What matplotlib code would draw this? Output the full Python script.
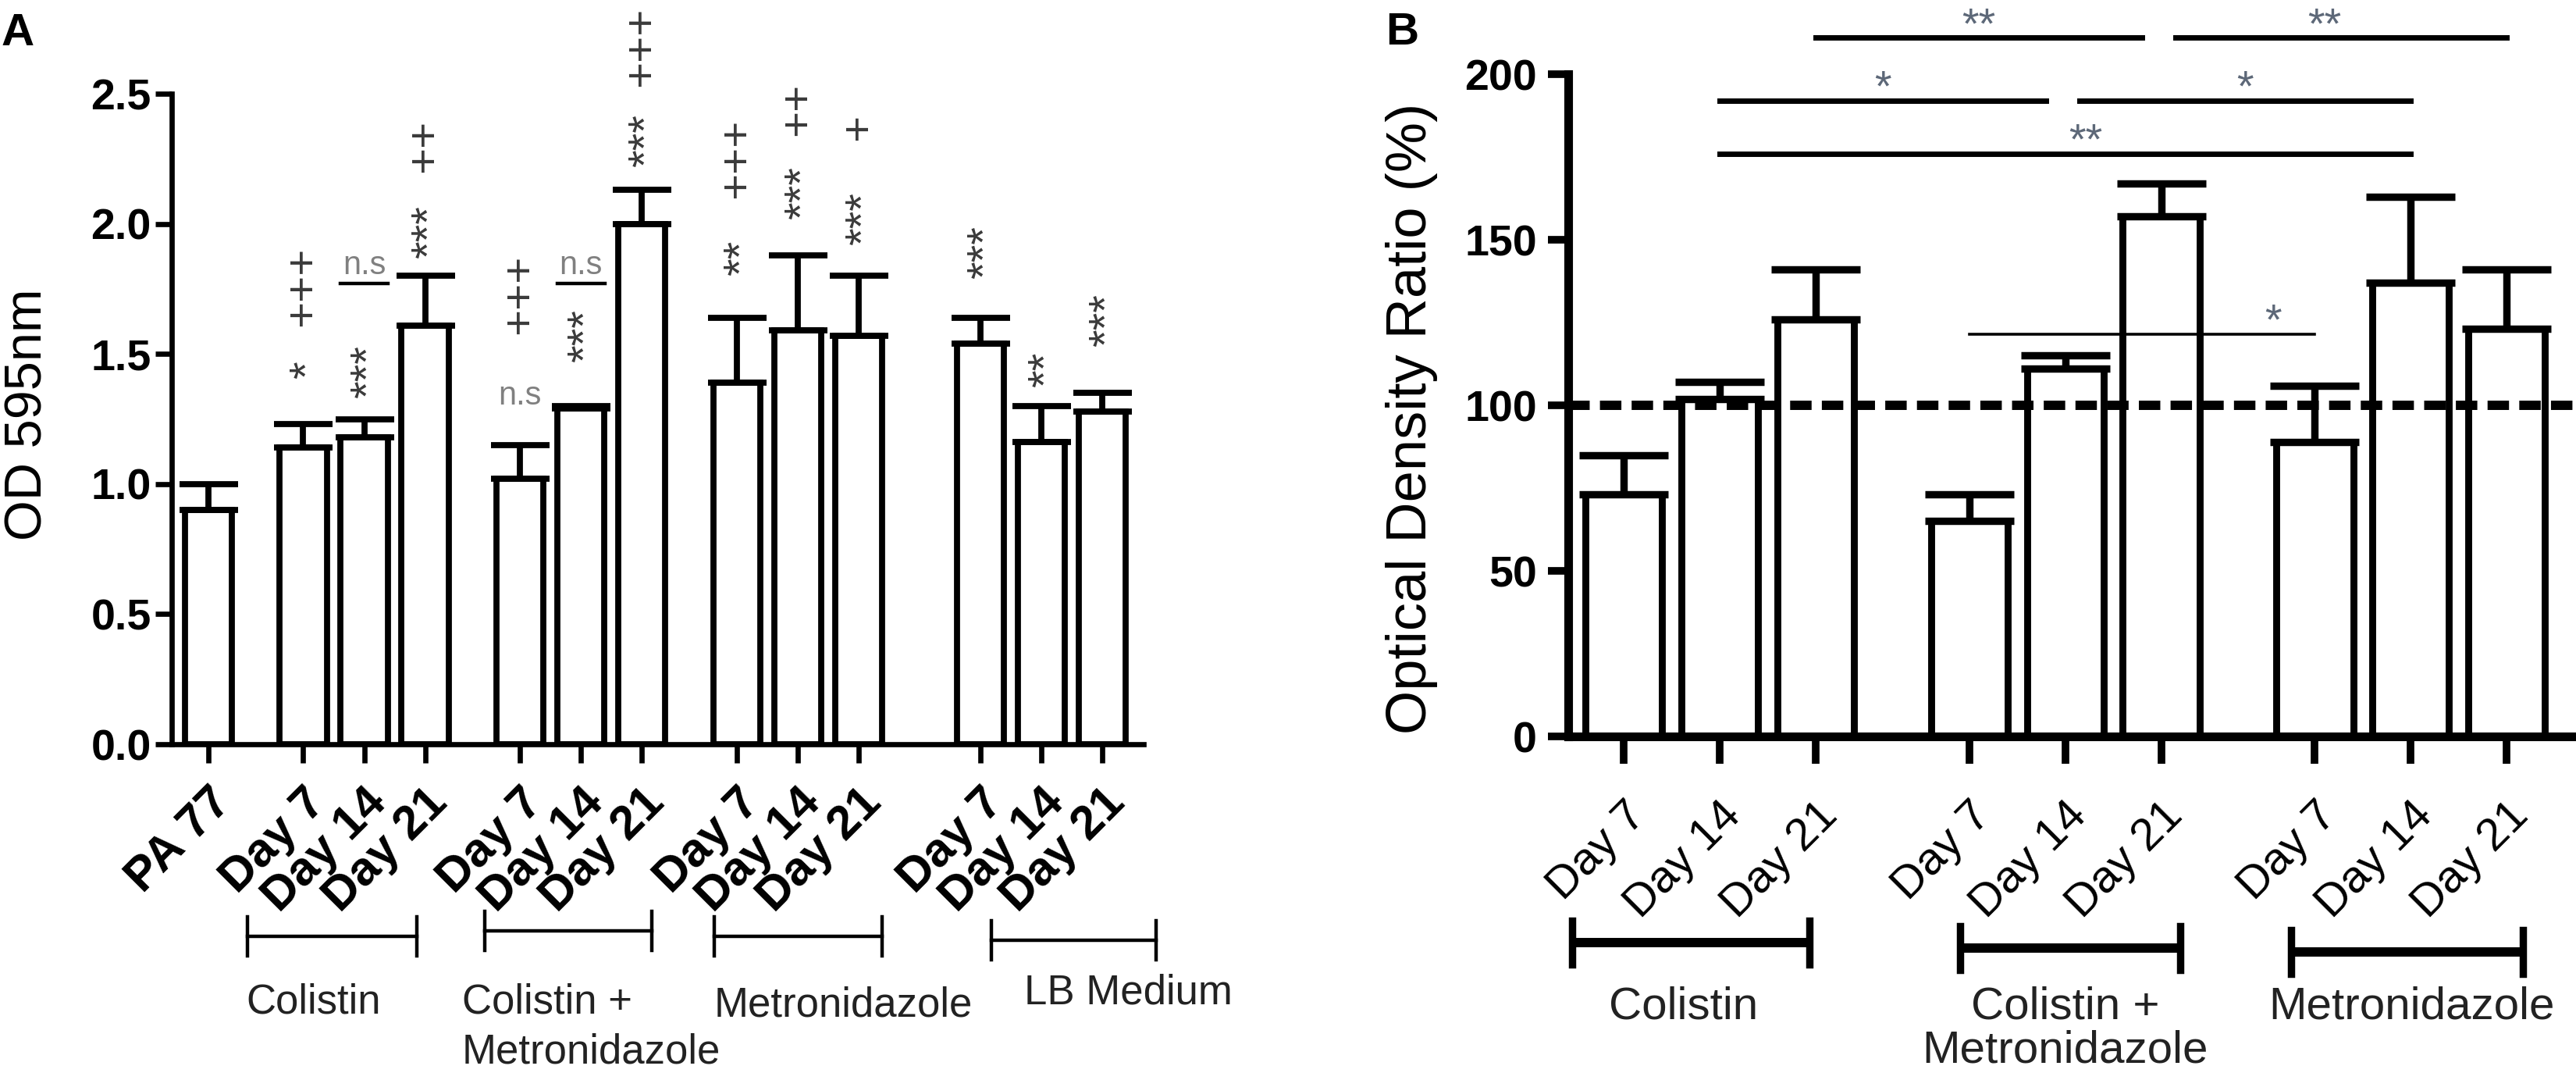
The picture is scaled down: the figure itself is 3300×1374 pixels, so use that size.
import numpy as np
import matplotlib
matplotlib.use("Agg")
import matplotlib.pyplot as plt

plt.rcParams['font.family'] = ['Liberation Sans', 'DejaVu Sans']

# ---- panel A : OD 595nm (mean, upper SEM)
a_labels = ['PA 77', 'Day 7', 'Day 14', 'Day 21', 'Day 7', 'Day 14', 'Day 21',
            'Day 7', 'Day 14', 'Day 21', 'Day 7', 'Day 14', 'Day 21']
a_od = [0.90, 1.14, 1.18, 1.61, 1.02, 1.29, 2.00, 1.39, 1.59, 1.57, 1.54, 1.16, 1.28]
a_err = [0.10, 0.09, 0.07, 0.19, 0.13, 0.01, 0.13, 0.25, 0.29, 0.23, 0.10, 0.14, 0.07]
a_groups = ['Colistin', 'Colistin +\nMetronidazole', 'Metronidazole', 'LB Medium']
a_plus = ['', '+++', '', '++', '+++', '', '+++', '+++', '++', '+', '', '', '']
a_plus_y = [0, 1.76, 0, 2.30, 1.73, 0, 2.68, 2.25, 2.44, 2.37, 0, 0, 0]
a_star = ['', '*', '***', '***', '', '***', '***', '**', '***', '***', '***', '**', '***']
a_star_y = [0, 1.44, 1.43, 1.97, 0, 1.57, 2.32, 1.87, 2.12, 2.02, 1.89, 1.44, 1.63]
a_ns_bar = [2, 5, 4]
a_ns_y = [1.77, 1.77, 1.34]
a_ns_line = [True, True, False]

# ---- panel B : optical density ratio (%)
b_labels = ['Day 7', 'Day 14', 'Day 21'] * 3
b_ratio = [73, 102, 126, 65, 111, 157, 89, 137, 123]
b_err = [12, 5, 15, 8, 4, 10, 17, 26, 18]
b_groups = ['Colistin', 'Colistin +\nMetronidazole', 'Metronidazole']
b_pairs = [(2, 5), (5, 8), (1, 4), (4, 7), (1, 7), (3, 6)]
b_pair_y = [211, 211, 192, 192, 176, 121.5]
b_pair_txt = ['**', '**', '*', '*', '**', '*']

# ---- layout
W, H = 3300, 1374
fig = plt.figure(figsize=(W / 200, H / 200), dpi=200)


def px_axes(l, t, r, b):
    return fig.add_axes([l / W, 1 - b / H, (r - l) / W, (b - t) / H])


def slots(sizes, gaps):
    out, x = [], 0.0
    for k, n in enumerate(sizes):
        if k:
            x = out[-1] + gaps[k - 1]
        out += [x + i for i in range(n)]
    return np.array(out)


xa = slots([1, 3, 3, 3, 3], [1.56, 1.56, 1.56, 2.0])
xb = slots([3, 3, 3], [1.6, 1.6])

gray_sym = '#3a3a3a'
star_col = '#5d6878'

# ================= panel A
axA = px_axes(220, 120, 1465, 953)
axA.bar(xa, a_od, width=0.77, color='white', edgecolor='black', linewidth=2.8, zorder=2)
axA.errorbar(xa, a_od, yerr=[np.zeros(len(a_od)), a_err], fmt='none', ecolor='black',
             elinewidth=2.8, capsize=13.5, capthick=2.8, zorder=3)
axA.set_xlim(-0.60, 15.36)
axA.set_ylim(0, 2.5)
yt = np.arange(0, 2.51, 0.5)
axA.set_yticks(yt, labels=['%.1f' % v for v in yt], fontweight='bold', fontsize=20)
axA.set_xticks(xa, labels=a_labels, rotation=45, ha='right', rotation_mode='anchor',
               fontweight='bold', fontsize=22)
axA.tick_params(axis='x', length=8.6, width=2.4, pad=8)
axA.tick_params(axis='y', length=7.5, width=2.4, pad=2)
for s in ['top', 'right']:
    axA.spines[s].set_visible(False)
for s in ['left', 'bottom']:
    axA.spines[s].set_linewidth(2.4)

for x, s, y in zip(xa, a_plus, a_plus_y):
    if s:
        axA.text(x, y, s, rotation=90, ha='center', va='center', fontsize=21,
                 color=gray_sym, clip_on=False)
for x, s, y in zip(xa, a_star, a_star_y):
    if s:
        axA.text(x + 0.1, y, s, rotation=90, ha='center', va='center', fontsize=21,
                 color=gray_sym, clip_on=False)
for i, y, line in zip(a_ns_bar, a_ns_y, a_ns_line):
    if line:
        axA.plot([xa[i] - 0.39, xa[i] + 0.39], [y, y], color='black', lw=1.6)
        axA.text(xa[i], y + 0.01, 'n.s', ha='center', va='bottom', fontsize=15, color='#808080')
    else:
        axA.text(xa[i], y, 'n.s', ha='center', va='center', fontsize=15, color='#808080')

# group brackets under the axis
trA = axA.get_xaxis_transform()
a_brk = [(0.64, 3.42, -0.295), (4.54, 7.29, -0.287), (8.31, 11.06, -0.295), (12.86, 15.56, -0.301)]
a_txt = [(0.62, -0.367), (4.17, -0.367), (8.31, -0.372), (13.4, -0.352)]
for (x0, x1, yb), (tx, ty), name in zip(a_brk, a_txt, a_groups):
    axA.plot([x0, x1], [yb, yb], color='black', lw=1.6, transform=trA, clip_on=False)
    for xe in (x0, x1):
        axA.plot([xe, xe], [yb - 0.03, yb + 0.03], color='black', lw=1.6, transform=trA,
                 clip_on=False)
    axA.text(tx, ty, name, ha='left', va='top', fontsize=19, color='#222222',
             linespacing=1.35, transform=trA)

# ================= panel B
axB = px_axes(2009, 95, 3296, 943)
axB.bar(xb, b_ratio, width=0.8, color='white', edgecolor='black', linewidth=3.2, zorder=2)
axB.errorbar(xb, b_ratio, yerr=[np.zeros(len(b_ratio)), b_err], fmt='none', ecolor='black',
             elinewidth=3.4, capsize=20.5, capthick=3.4, zorder=3)
axB.axhline(100, color='black', lw=4.3, dashes=(2.3, 1.1), zorder=4)
axB.set_xlim(-0.58, 9.89)
axB.set_ylim(0, 200)
ybt = [0, 50, 100, 150, 200]
axB.set_yticks(ybt, labels=[str(v) for v in ybt], fontweight='bold', fontsize=20)
axB.set_xticks(xb, labels=b_labels, rotation=45, ha='right', rotation_mode='anchor',
               fontsize=21)
axB.tick_params(axis='x', length=12.5, width=3.5, pad=14)
axB.tick_params(axis='y', length=9.4, width=3.5, pad=5)
for s in ['top', 'right']:
    axB.spines[s].set_visible(False)
for s in ['left', 'bottom']:
    axB.spines[s].set_linewidth(4.0)

b_txt_at = [0.5, 0.45, 0.5, 0.5, 0.53, 0.88]
for (i, j), y, s, f in zip(b_pairs, b_pair_y, b_pair_txt, b_txt_at):
    x0, x1 = xb[i], xb[j]
    if any(p[1] == i and yy == y for p, yy in zip(b_pairs, b_pair_y)):
        x0 += 0.15
    if any(p[0] == j and yy == y for p, yy in zip(b_pairs, b_pair_y)):
        x1 -= 0.2
    lw = 1.3 if y < 150 else 2.5
    axB.plot([x0, x1], [y, y], color='black', lw=lw, clip_on=False, zorder=5)
    axB.text(x0 + f * (x1 - x0), y, s, ha='center', va='baseline', fontsize=20,
             color=star_col, clip_on=False)

trB = axB.get_xaxis_transform()
b_brk = [(-0.54, 1.93, -0.311), (3.5, 5.8, -0.320), (6.95, 9.37, -0.325)]
b_txt = [0.62, 4.6, 8.21]
for (x0, x1, yb), tx, name in zip(b_brk, b_txt, b_groups):
    axB.plot([x0, x1], [yb, yb], color='black', lw=4.3, transform=trB, clip_on=False,
             solid_capstyle='butt')
    for xe in (x0, x1):
        axB.plot([xe, xe], [yb - 0.033, yb + 0.033], color='black', lw=3.4, transform=trB,
                 clip_on=False)
    axB.text(tx, -0.377, name, ha='center', va='top', fontsize=21, color='#222222',
             linespacing=1.05, multialignment='center', transform=trB)

# axis titles and panel letters
fig.text(37 / W, 1 - 531 / H, 'OD 595nm', rotation=90, ha='center', va='center', fontsize=24)
fig.text(1808 / W, 1 - 536 / H, 'Optical Density Ratio (%)', rotation=90, ha='center',
         va='center', fontsize=26)
fig.text(2 / W, 1 - 16 / H, 'A', ha='left', va='top', fontsize=21, fontweight='bold')
fig.text(1775 / W, 1 - 15 / H, 'B', ha='left', va='top', fontsize=21, fontweight='bold')

fig.savefig('out.png', dpi=200)
